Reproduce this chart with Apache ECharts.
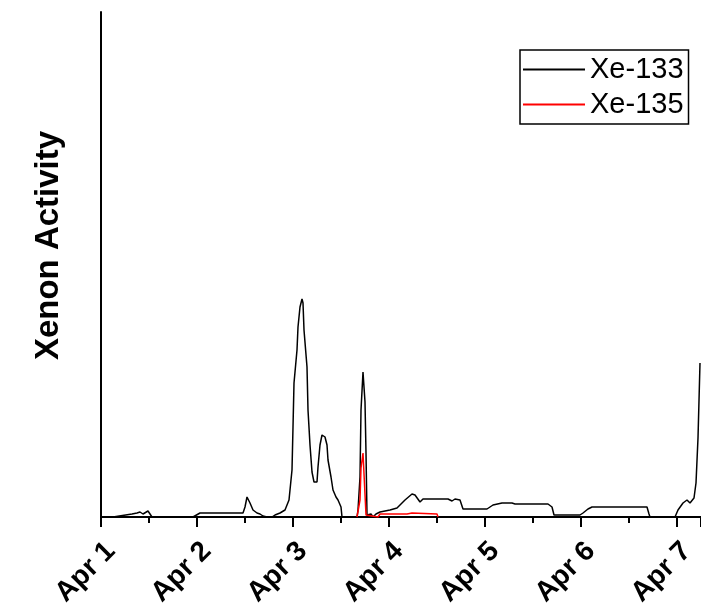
<!DOCTYPE html>
<html>
<head>
<meta charset="utf-8">
<title>Xenon Activity</title>
<script src="https://cdn.jsdelivr.net/npm/echarts@6/dist/echarts.min.js"></script>
<style>
  html, body { margin: 0; padding: 0; background: #fff; }
  #chart { width: 701px; height: 609px; }
</style>
</head>
<body>
<div id="chart"></div>
<script type="text/javascript">
  // hours since Apr 1 00:00
  var xe133Hours = [0, 3, 3.5, 7.75, 9, 9.75, 10.5, 11, 11.75, 12.25, 12.75, 14.25, 14.5, 14.75,
    23, 23.5, 24.75, 29.25, 29.75, 35.5, 36, 36.5, 37.25, 38, 39, 39.75, 40.5, 41.5, 42.75,
    43.5, 44.75, 46, 47, 47.25, 47.75, 48, 48.25, 49, 49.25, 49.75, 50.25, 50.5, 50.75,
    51.5, 51.75, 52.25, 52.75, 53.25, 54, 54.25, 54.75, 55.25, 56, 56.5, 56.75, 57.5, 58,
    58.75, 59.25, 60, 60.25, 64, 64.25, 64.75, 65, 65.5, 66, 66.25, 66.5, 67, 67.5, 68,
    68.75, 69.75, 72.25, 74, 76, 77.75, 78.5, 79.75, 80.5, 85.5, 86, 86.75, 87.75, 88.5,
    89.75, 90.5, 96.5, 98, 100.25, 102.75, 103, 103.5, 111.75, 112.75, 113.25, 119.75,
    120.5, 121.75, 122.75, 136.5, 137, 137.25, 143.5, 144.25, 145.5, 146.5, 147.25,
    147.75, 148.25, 148.75, 149.25, 149.75];
  var xe133Values = [0, 0, 2, 3, 4, 5, 3, 5, 6, 3, 0, 0, 2, 0,
    0, 2, 4, 4, 3, 4, 10, 20, 14, 7, 4, 3, 1, 0, 0,
    2, 4, 7, 17, 27, 47, 90, 134, 167, 190, 210, 218, 214, 187,
    150, 107, 72, 45, 35, 35, 50, 72, 82, 80, 72, 57, 40, 27,
    20, 17, 10, 0, 0, 7, 40, 107, 145, 115, 64, 2, 0, 3, 0,
    3, 5, 7, 9, 17, 23, 22, 15, 18, 18, 16, 18, 16, 18,
    17, 8, 8, 12, 14, 14, 12, 13, 13, 10, 2, 2,
    4, 8, 10, 10, 3, 0, 0, 7, 14, 17, 14,
    13, 19, 34, 79, 154];

  var xe135Hours = [64, 64.25, 64.75, 65, 65.5, 66, 66.25, 66.5, 69.25, 69.75, 76.5, 77, 77.75, 78, 84, 84.25];
  var xe135Values = [0, 2, 17, 49, 64, 64, 2, 0, 0, 3, 3, 4, 4, 3, 3, 0];

  var seriesNames = ['Xe-133', 'Xe-135'];

  function pairs(xs, ys) {
    return xs.map(function (x, i) { return [x, ys[i]]; });
  }

  var font = 'Liberation Sans, Arial, sans-serif';
  var myChart = echarts.init(document.getElementById('chart'));
  var option = {
    animation: false,
    backgroundColor: '#fff',
    grid: { left: 101, right: 0, top: 12, bottom: 92, outerBoundsMode: 'none' },
    legend: {
      orient: 'vertical',
      left: 520,
      top: 50,
      padding: [5, 5, 5, 3],
      itemGap: 6,
      itemWidth: 62,
      itemHeight: 2,
      icon: 'rect',
      borderColor: '#000',
      borderWidth: 1.5,
      backgroundColor: '#fff',
      textStyle: { fontSize: 29, color: '#000', fontFamily: font },
      data: seriesNames
    },
    xAxis: [
      {
        type: 'value',
        min: 0,
        max: 150,
        interval: 24,
        axisLine: { show: true, lineStyle: { color: '#000', width: 2 } },
        axisTick: { show: true, length: 10, lineStyle: { color: '#000', width: 2 } },
        splitLine: { show: false },
        axisLabel: {
          rotate: 45,
          margin: 20,
          align: 'right',
          verticalAlign: 'top',
          color: '#000',
          fontSize: 28,
          fontWeight: 'bold',
          fontFamily: font,
          formatter: function (v) {
            return v % 24 === 0 ? 'Apr ' + (v / 24 + 1) : '';
          }
        }
      },
      {
        // half-day minor ticks
        type: 'value',
        position: 'bottom',
        min: 0,
        max: 150,
        interval: 12,
        axisLine: { show: false },
        axisTick: { show: true, length: 6, lineStyle: { color: '#000', width: 2 } },
        axisLabel: { show: false },
        splitLine: { show: false }
      }
    ],
    yAxis: {
      type: 'value',
      min: 0,
      max: 505,
      name: 'Xenon Activity',
      nameLocation: 'middle',
      nameGap: 36,
      nameTextStyle: {
        fontSize: 33,
        fontWeight: 'bold',
        color: '#000',
        fontFamily: font,
        padding: [0, 0, 0, 38]
      },
      axisLine: { show: true, lineStyle: { color: '#000', width: 2 } },
      axisTick: { show: false },
      axisLabel: { show: false },
      splitLine: { show: false }
    },
    series: [
      {
        name: seriesNames[0],
        type: 'line',
        xAxisIndex: 0,
        symbol: 'none',
        color: '#000',
        lineStyle: { color: '#000', width: 1.5 },
        data: pairs(xe133Hours, xe133Values)
      },
      {
        name: seriesNames[1],
        type: 'line',
        xAxisIndex: 0,
        symbol: 'none',
        color: '#ff0000',
        lineStyle: { color: '#ff0000', width: 1.5 },
        data: pairs(xe135Hours, xe135Values)
      }
    ]
  };
  myChart.setOption(option);
</script>
</body>
</html>
